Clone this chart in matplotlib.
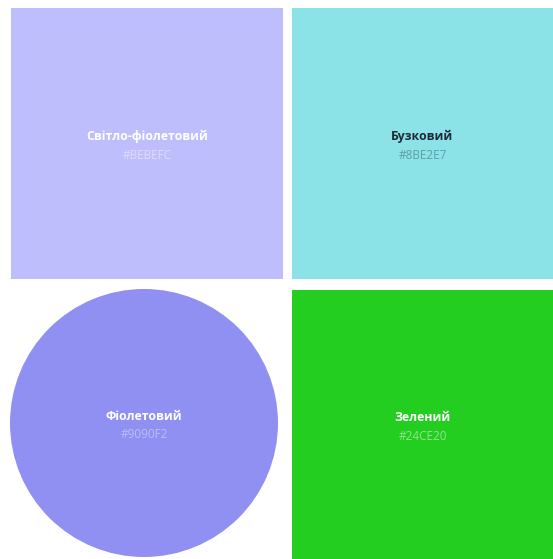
import matplotlib
matplotlib.use("Agg")
import matplotlib.pyplot as plt
from matplotlib.patches import Rectangle, Circle

# palette swatches
names = ["Світло-фіолетовий", "Бузковий", "Фіолетовий", "Зелений"]
hex_codes = ["#BEBEFC", "#8BE2E7", "#9090F2", "#24CE20"]
shapes = ["square", "square", "circle", "square"]

# layout in pixel units (x0, y0, x1, y1)
boxes = [(11, 8, 283, 279), (292, 8, 553, 279), (8, 289, 280, 557), (292, 290, 553, 559)]
name_colors = ["#FFFFFF", "#1E2B36", "#FFFFFF", "#FFFFFF"]
code_colors = ["#DCDCFE", "#5E9EA4", "#BCBCF8", "#8EE68B"]

W, H = 553, 559
fig = plt.figure(figsize=(W / 100, H / 100), dpi=100)
ax = fig.add_axes([0, 0, 1, 1])
ax.set_xlim(0, W)
ax.set_ylim(H, 0)
ax.axis("off")

for name, code, shape, (x0, y0, x1, y1), nc, cc in zip(names, hex_codes, shapes, boxes, name_colors, code_colors):
    if shape == "circle":
        r = min(x1 - x0, y1 - y0) / 2
        ax.add_patch(Circle(((x0 + x1) / 2, (y0 + y1) / 2), r, color=code, lw=0))
    else:
        ax.add_patch(Rectangle((x0, y0), x1 - x0, y1 - y0, color=code, lw=0))
    cx = (x0 + x1) / 2
    cy = (y0 + y1) / 2
    ax.text(cx, cy - 7, name, ha="center", va="center", fontsize=8.8,
            fontweight="bold", color=nc, family=["Open Sans", "DejaVu Sans"])
    ax.text(cx, cy + 12, code, ha="center", va="center", fontsize=8.5,
            color=cc, family=["Open Sans", "DejaVu Sans"])

fig.savefig("out.png", dpi=100, facecolor="white")
